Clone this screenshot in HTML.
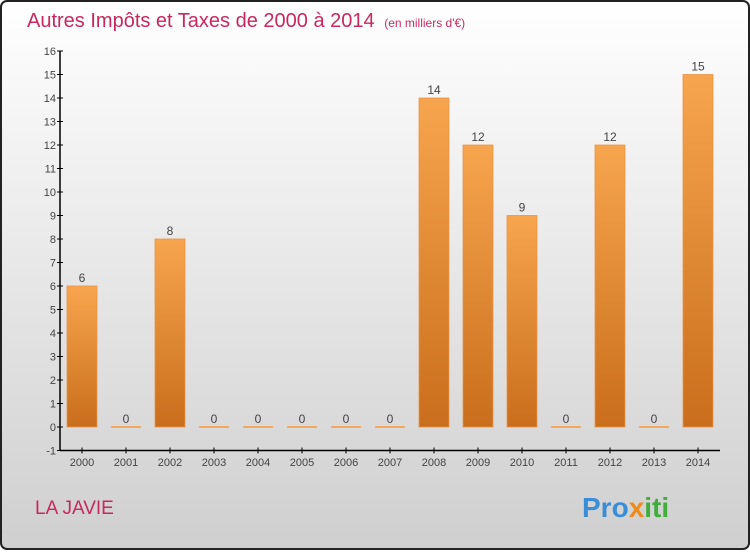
<!DOCTYPE html>
<html><head><meta charset="utf-8"><style>
body{margin:0;width:750px;height:550px;overflow:hidden;font-family:"Liberation Sans",sans-serif}
</style></head><body>
<svg width="750" height="550">
<defs>
<linearGradient id="bg" x1="0" y1="0" x2="0" y2="1"><stop offset="0" stop-color="#ffffff"/><stop offset="1" stop-color="#cfcfcf"/></linearGradient>
<linearGradient id="bar" x1="0" y1="0" x2="0" y2="1"><stop offset="0" stop-color="#f7a54e"/><stop offset="1" stop-color="#c96e1c"/></linearGradient>
</defs>
<rect x="1" y="1" width="748" height="548" rx="6" fill="url(#bg)" stroke="#222" stroke-width="2"/>
<text x="27" y="27" font-size="20" fill="#c8285e">Autres Impôts et Taxes de 2000 à 2014 <tspan font-size="12" dx="4">(en milliers d'€)</tspan></text>
<text x="35" y="514" font-size="19" fill="#c8285e">LA JAVIE</text>
<text x="582" y="517" font-size="28" font-weight="bold"><tspan fill="#3a8ed8">Pro</tspan><tspan fill="#f08a1a">x</tspan><tspan fill="#3fae3a">iti</tspan></text>
<g id="plot"></g>
</svg>
<script>
const years=["2000","2001","2002","2003","2004","2005","2006","2007","2008","2009","2010","2011","2012","2013","2014"];
const values=[6,0,8,0,0,0,0,0,14,12,9,0,12,0,15];
const yTicks=[-1,0,1,2,3,4,5,6,7,8,9,10,11,12,13,14,15,16];
const NS="http://www.w3.org/2000/svg";
const g=document.getElementById('plot');
const y=v=>427-(v*23.5);
const x=i=>82+i*44;
function mk(t,a,txt){const e=document.createElementNS(NS,t);for(const k in a)e.setAttribute(k,a[k]);if(txt!==undefined)e.textContent=txt;g.appendChild(e);return e;}
let ax=mk('line',{x1:60,y1:y(16),x2:60,y2:y(-1),stroke:'#000','stroke-width':1.5});


let xa=mk('line',{x1:60,y1:y(-1),x2:720,y2:y(-1),stroke:'#000','stroke-width':1.5});


yTicks.forEach(v=>{
 const t=mk('line',{x1:57,x2:63,y1:y(v),y2:y(v),stroke:'#000'});
 
 
 const l=mk('text',{x:56,y:y(v)+4,'font-size':11,'text-anchor':'end',fill:'#444'},v);
 
 
});
years.forEach((yr,i)=>{
 const v=values[i];
 const t=mk('line',{x1:x(i),x2:x(i),y1:y(-1)-3,y2:y(-1)+3,stroke:'#000'});
 
 
 const l=mk('text',{x:x(i),y:466,'font-size':11,'text-anchor':'middle',fill:'#444'},yr);
 
 
 let b;
 if(v>0){b=mk('rect',{x:x(i)-15,y:y(v),width:30,height:y(0)-y(v),fill:'url(#bar)',stroke:'#e8944a','stroke-width':0.8});}
 else{b=mk('rect',{x:x(i)-15,y:y(0)-1,width:30,height:2,fill:'#f2a860'});}
 
 
 const vl=mk('text',{x:x(i),y:y(v)-4,'font-size':12,'text-anchor':'middle',fill:'#444'},v);
 
 
});
</script>
</body></html>
